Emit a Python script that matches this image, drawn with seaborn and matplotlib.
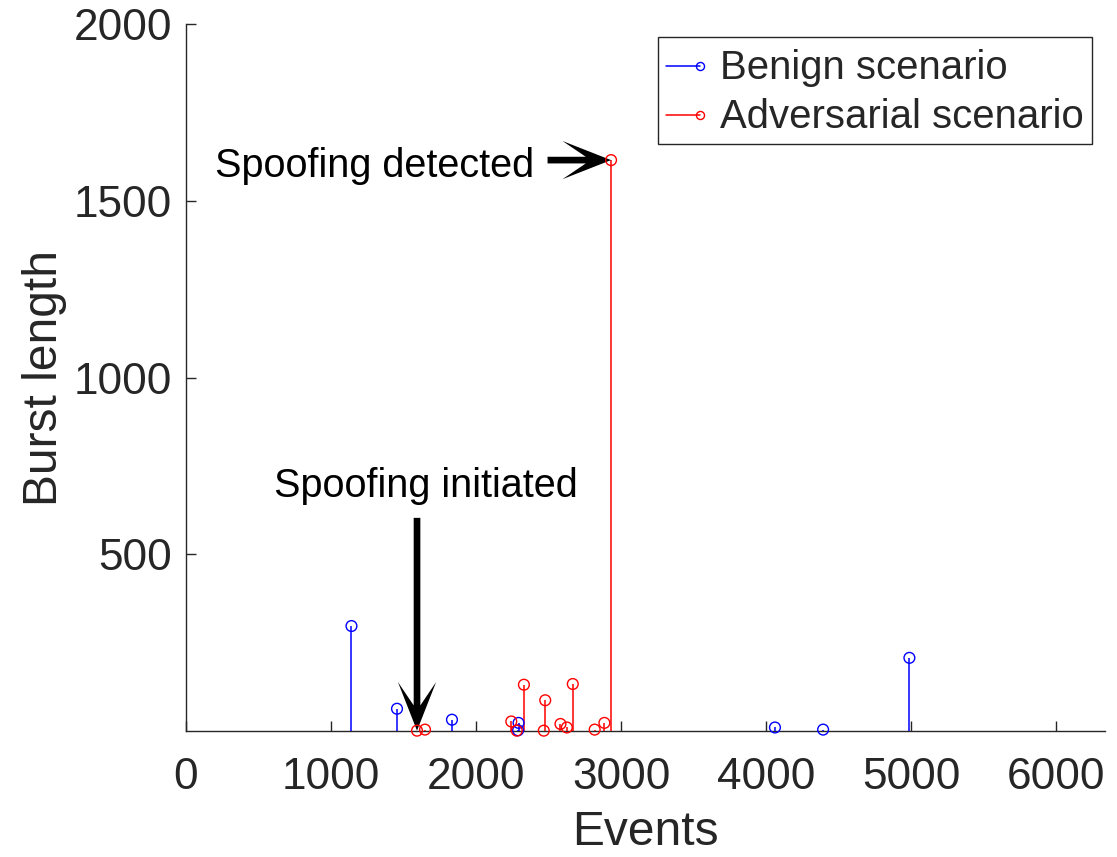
import numpy as np
import pandas as pd
import matplotlib
matplotlib.use("Agg")
import matplotlib.pyplot as plt
import seaborn as sns
from matplotlib.lines import Line2D
from matplotlib.legend_handler import HandlerBase
from matplotlib.patches import ArrowStyle
from matplotlib.path import Path

# Burst lengths observed per event index
benign_events = [1141, 1455, 1834, 2293, 2290, 4061, 4393, 4988]
benign_bursts = [297, 63, 32, 23, 2, 10, 4, 207]

adversarial_events = [1593, 1648, 2243, 2281, 2330, 2467, 2477, 2582, 2626,
                      2667, 2818, 2885, 2931]
adversarial_bursts = [1, 4, 27, 1, 131, 1, 87, 20, 10, 133, 4, 23, 1615]

series_labels = ["Benign scenario", "Adversarial scenario"]
series_colors = ["#0000FF", "#FF0000"]

x_ticks = [0, 1000, 2000, 3000, 4000, 5000, 6000]
y_ticks = [500, 1000, 1500, 2000]

AXIS_COLOR = "#262626"

sns.set_theme(style="white")
plt.rcParams["font.family"] = ["Liberation Sans", "DejaVu Sans"]


class NotchedArrow(ArrowStyle._Base):
    """Straight arrow with a swallow-tail head (sizes in points)."""

    def __init__(self, head_length=35.0, head_width=27.5, tail_width=4.8,
                 notch=0.52):
        self.head_length = head_length
        self.head_width = head_width
        self.tail_width = tail_width
        self.notch = notch
        super().__init__()

    def transmute(self, path, mutation_size, linewidth):
        x0, y0 = path.vertices[0]
        x1, y1 = path.vertices[-1]
        d = np.hypot(x1 - x0, y1 - y0)
        ux, uy = (x1 - x0) / d, (y1 - y0) / d
        nx, ny = -uy, ux
        hl = self.head_length * mutation_size
        hw = self.head_width * mutation_size
        tw = self.tail_width * mutation_size
        nd = hl * self.notch

        def pt(a, b):
            return (x1 - ux * a + nx * b, y1 - uy * a + ny * b)

        verts = [pt(d, tw / 2), pt(nd, tw / 2), pt(hl, hw / 2), pt(0, 0),
                 pt(hl, -hw / 2), pt(nd, -tw / 2), pt(d, -tw / 2), pt(d, tw / 2)]
        codes = [Path.MOVETO] + [Path.LINETO] * 6 + [Path.CLOSEPOLY]
        return Path(verts, codes), True


class StemLegendHandler(HandlerBase):
    """Legend key: horizontal line ending in an open circle."""

    def create_artists(self, legend, orig_handle, xdescent, ydescent,
                       width, height, fontsize, trans):
        y = height / 2 - ydescent
        color = orig_handle.get_color()
        line = Line2D([-xdescent, width - xdescent - 3], [y, y], color=color,
                      lw=1.1, transform=trans)
        mk = Line2D([width - xdescent - 3], [y], marker="o", ms=5.8,
                    mfc="none", mec=color, mew=1.0, ls="none", transform=trans)
        return [line, mk]


fig = plt.figure(figsize=(11.17, 8.57), dpi=100)
ax = fig.add_axes([0.1665, 0.147, 0.8228, 0.825])

frames = [
    pd.DataFrame({"Events": benign_events, "Burst": benign_bursts}),
    pd.DataFrame({"Events": adversarial_events, "Burst": adversarial_bursts}),
]

handles = []
for df, color, label in zip(frames, series_colors, series_labels):
    ax.vlines(df["Events"], 0, df["Burst"], color=color, lw=1.1, zorder=3)
    sns.scatterplot(data=df, x="Events", y="Burst", ax=ax, marker="o", s=60,
                    facecolor="none", edgecolor=color, linewidth=1.0,
                    zorder=4, clip_on=False, legend=False)
    handles.append(Line2D([], [], color=color, label=label))

ax.set_xlim(0, 6337)
ax.set_ylim(0, 2000)
ax.set_xticks(x_ticks)
ax.set_yticks(y_ticks)
ax.set_xticklabels([str(v) for v in x_ticks])
ax.set_yticklabels([str(v) for v in y_ticks])

for side in ["top", "right"]:
    ax.spines[side].set_visible(False)
for side in ["left", "bottom"]:
    ax.spines[side].set_color(AXIS_COLOR)
    ax.spines[side].set_linewidth(1.0)
    ax.spines[side].set_zorder(2)

ax.tick_params(axis="both", direction="in", length=7, width=1.0,
               color=AXIS_COLOR, labelcolor=AXIS_COLOR, labelsize=31.8)
ax.tick_params(axis="x", pad=18.5)
ax.tick_params(axis="y", pad=10)
ax.xaxis.set_ticks_position("bottom")
ax.yaxis.set_ticks_position("left")

ax.set_xlabel("Events", fontsize=34.5, color=AXIS_COLOR, labelpad=9)
ax.set_ylabel("Burst length", fontsize=34.5, color=AXIS_COLOR, labelpad=5)

leg = ax.legend(handles=handles, loc="upper right", fontsize=28.9,
                handler_map={Line2D: StemLegendHandler()},
                handlelength=0.95, handletextpad=0.4, handleheight=1.2,
                labelspacing=0.17, borderpad=0.2, borderaxespad=0.33,
                frameon=True, fancybox=False, framealpha=1.0)
leg.get_frame().set_edgecolor(AXIS_COLOR)
leg.get_frame().set_linewidth(1.0)

arrow_kw = dict(arrowstyle=NotchedArrow(), mutation_scale=1, fc="black",
                ec="none", lw=0, shrinkA=0, shrinkB=0)

# Onset of spoofing
ax.annotate("", xy=(adversarial_events[0], adversarial_bursts[0]),
            xytext=(adversarial_events[0], 603), arrowprops=arrow_kw,
            annotation_clip=False)
ax.text(1656, 662, "Spoofing initiated", ha="center", va="baseline",
        fontsize=28.5, color="black")

# Detection point (largest burst)
ax.annotate("", xy=(adversarial_events[-1], adversarial_bursts[-1]),
            xytext=(2493, adversarial_bursts[-1]), arrowprops=arrow_kw,
            annotation_clip=False)
ax.text(2403, 1568, "Spoofing detected", ha="right", va="baseline",
        fontsize=28.5, color="black")

fig.savefig("out.png", dpi=100, facecolor="white")
